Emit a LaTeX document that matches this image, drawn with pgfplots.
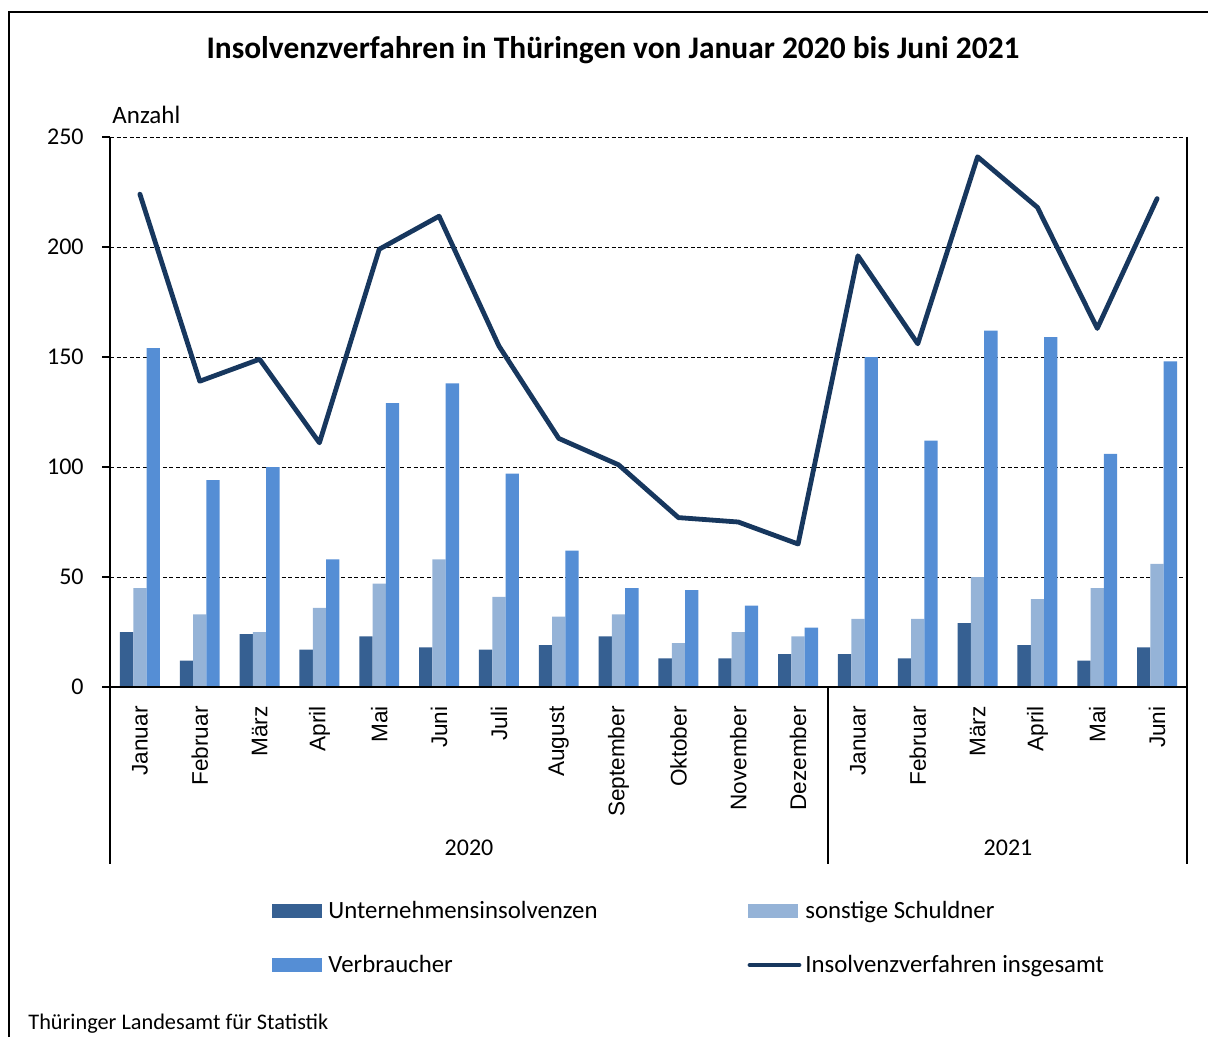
\documentclass[border=0pt]{standalone}
\usepackage{pgfplots}
\pgfplotsset{compat=1.18}
\usepackage{fontspec}
\setmainfont{Carlito}
\newfontfamily\arialfont{Liberation Sans}
\definecolor{cU}{RGB}{54,96,146}
\definecolor{cS}{RGB}{149,179,215}
\definecolor{cV}{RGB}{85,142,213}
\definecolor{cL}{RGB}{23,55,94}
\begin{document}
\begin{tikzpicture}
\begin{scope}[x=0.5pt,y=-0.5pt]
\path[use as bounding box] (0,0) rectangle (1208,1037);
\draw[line width=1pt] (9,1037) -- (9,12) -- (1208,12);
\node[font=\bfseries\fontsize{15.7}{18}\selectfont] at (613,50) {Insolvenzverfahren in Thüringen von Januar 2020 bis Juni 2021};
\node[anchor=west, inner sep=0pt, font=\fontsize{12.5}{14}\selectfont] at (112,115) {Anzahl};
\end{scope}
\begin{axis}[
  at={(55pt,-343.5pt)}, anchor=south west,
  width=538.5pt, height=275pt, scale only axis,
  xmin=-0.5, xmax=17.5, ymin=0, ymax=250,
  axis line style={draw=none},
  ytick={0,50,...,250}, ymajorgrids,
  grid style={black, line width=0.5pt, dash pattern=on 2pt off 1.3pt},
  ytick pos=left, tick align=outside, major tick length=4pt,
  ytick style={black, line width=0.6pt},
  yticklabel style={font=\fontsize{12}{14}\selectfont, inner sep=0pt, anchor=east, xshift=-9pt},
  /pgf/number format/assume math mode=true,
  xtick={0,...,17},
  xticklabels={Januar,Februar,März,April,Mai,Juni,Juli,August,September,Oktober,November,Dezember,Januar,Februar,März,April,Mai,Juni},
  xtick style={draw=none},
  xticklabel style={font=\arialfont\fontsize{11.3}{13}\selectfont, rotate=90, anchor=east, inner xsep=5.5pt, inner ysep=0pt},
  clip=false,
]
\addplot[ybar, bar width=6.65pt, bar shift=-6.65pt, fill=cU, draw=none] coordinates {
(0,25)(1,12)(2,24)(3,17)(4,23)(5,18)(6,17)(7,19)(8,23)(9,13)(10,13)(11,15)(12,15)(13,13)(14,29)(15,19)(16,12)(17,18)};
\addplot[ybar, bar width=6.65pt, bar shift=0pt, fill=cS, draw=none] coordinates {
(0,45)(1,33)(2,25)(3,36)(4,47)(5,58)(6,41)(7,32)(8,33)(9,20)(10,25)(11,23)(12,31)(13,31)(14,50)(15,40)(16,45)(17,56)};
\addplot[ybar, bar width=6.65pt, bar shift=6.65pt, fill=cV, draw=none] coordinates {
(0,154)(1,94)(2,100)(3,58)(4,129)(5,138)(6,97)(7,62)(8,45)(9,44)(10,37)(11,27)(12,150)(13,112)(14,162)(15,159)(16,106)(17,148)};
\addplot[cL, line width=2.4pt, line join=round, line cap=round, mark=none] coordinates {
(0,224)(1,139)(2,149)(3,111)(4,199)(5,214)(6,155)(7,113)(8,101)(9,77)(10,75)(11,65)(12,196)(13,156)(14,241)(15,218)(16,163)(17,222)};
\end{axis}
\begin{scope}[x=0.5pt,y=-0.5pt]
\draw[line width=0.6pt] (110,137) -- (110,864);
\draw[line width=0.6pt] (1187,137) -- (1187,864);
\draw[line width=0.6pt] (828,687) -- (828,864);
\draw[line width=0.6pt] (110,687) -- (1187,687);
\node[font=\fontsize{12}{14}\selectfont] at (469,848) {2020};
\node[font=\fontsize{12}{14}\selectfont] at (1008,848) {2021};
\fill[cU] (272,904) rectangle (322,918);
\node[anchor=base west, inner sep=0pt, font=\fontsize{12.4}{14}\selectfont] at (328,918) {Unternehmensinsolvenzen};
\fill[cS] (748,904) rectangle (798,918);
\node[anchor=base west, inner sep=0pt, font=\fontsize{12.4}{14}\selectfont] at (805,918) {sonstige Schuldner};
\fill[cV] (272,958) rectangle (322,972);
\node[anchor=base west, inner sep=0pt, font=\fontsize{12.4}{14}\selectfont] at (328,972) {Verbraucher};
\draw[cL, line width=2.4pt, line cap=round] (750,965) -- (799,965);
\node[anchor=base west, inner sep=0pt, font=\fontsize{12.4}{14}\selectfont] at (805,972) {Insolvenzverfahren insgesamt};
\node[anchor=base west, inner sep=0pt, font=\fontsize{11.15}{13}\selectfont] at (28,1029) {Thüringer Landesamt für Statistik};
\end{scope}
\end{tikzpicture}
\end{document}
